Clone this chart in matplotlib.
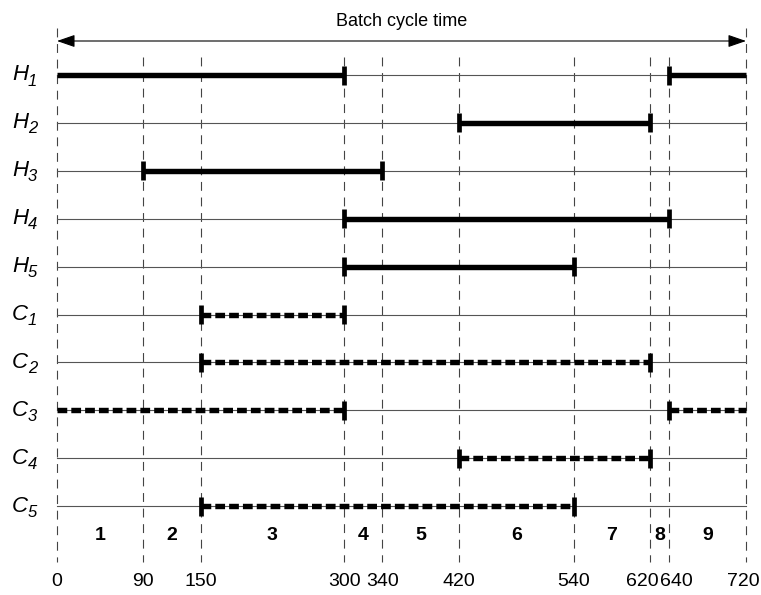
import matplotlib
matplotlib.use("Agg")
import matplotlib.pyplot as plt

# rows and the time intervals drawn on each (minutes)
ROW_LETTERS = ["H", "H", "H", "H", "H", "C", "C", "C", "C", "C"]
ROW_INDEX = ["1", "2", "3", "4", "5", "1", "2", "3", "4", "5"]
INTERVALS = [
    [(0, 300), (640, 720)],
    [(420, 620)],
    [(90, 340)],
    [(300, 640)],
    [(300, 540)],
    [(150, 300)],
    [(150, 620)],
    [(0, 300), (640, 720)],
    [(420, 620)],
    [(150, 540)],
]
BOUNDS = [0, 90, 150, 300, 340, 420, 540, 620, 640, 720]
CYCLE = 720

plt.rcParams["font.family"] = ["Liberation Sans", "DejaVu Sans"]

fig = plt.figure(figsize=(7.61, 5.95), dpi=100)
ax = fig.add_axes([0, 0, 1, 1])
pxu = 689 / 720.0          # pixels per minute
ax.set_xlim(-57 / pxu, CYCLE + 15 / pxu)
rs = 47.9                  # pixels per row
ax.set_ylim((595 - 75) / rs, -75 / rs)
ax.axis("off")


def ypx(p):
    return (p - 75) / rs


n = len(ROW_LETTERS)

# vertical dashed boundaries
for b in BOUNDS:
    top = ypx(28) if b in (0, CYCLE) else ypx(57)
    ax.plot([b, b], [top, ypx(562)], color="#444444", lw=0.8, ls=(0, (8, 6)), zorder=1)

# thin row baselines + row labels (italic letter with italic subscript)
for i in range(n):
    ax.plot([0, CYCLE], [i, i], color="#555555", lw=0.8, zorder=2)
    ax.text(-29 / pxu, i, ROW_LETTERS[i], ha="right", va="center",
            fontsize=16, style="italic")
    ax.text(-29 / pxu, i + 6 / rs, ROW_INDEX[i], ha="left", va="center",
            fontsize=12, style="italic")

# intervals
tick_h = 9.5 / rs
for i, segs in enumerate(INTERVALS):
    hot = ROW_LETTERS[i] == "H"
    for a, b in segs:
        ax.plot([a, b], [i, i], color="black", lw=3.9,
                ls="-" if hot else (0, (1.8, 0.75)), solid_capstyle="butt",
                dash_capstyle="butt", zorder=3)
        for e in (a, b):
            if e in (0, CYCLE):
                continue
            ax.plot([e, e], [i - tick_h, i + tick_h], color="black", lw=3.4,
                    solid_capstyle="butt", zorder=4)

# interval numbers
for k in range(len(BOUNDS) - 1):
    ax.text((BOUNDS[k] + BOUNDS[k + 1]) / 2, ypx(536), str(k + 1), ha="center",
            va="center", fontsize=14, fontweight="bold")

# tick labels (620 / 640 nudged apart as in the original)
nudge = {620: -8, 640: 7, 720: -3}
for b in BOUNDS:
    ax.text(b + nudge.get(b, 0) / pxu, ypx(581), str(b), ha="center",
            va="center", fontsize=14)

# cycle arrow
ax.annotate("", xy=(CYCLE, ypx(41)), xytext=(0, ypx(41)),
            arrowprops=dict(arrowstyle="<|-|>,head_length=1.1,head_width=0.38",
                            color="black", lw=0.8, shrinkA=0, shrinkB=0))
ax.text(CYCLE / 2, ypx(21), "Batch cycle time", ha="center", va="center",
        fontsize=13)

fig.savefig("out.png", dpi=100)
